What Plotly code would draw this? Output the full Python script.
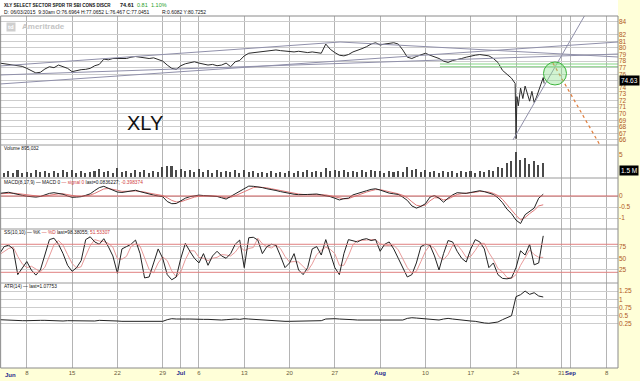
import numpy as np
import pandas as pd
import plotly.graph_objects as go

W, H = 640, 381

# ---------------- calendar (trading-day index) ----------------
cal = pd.bdate_range("2015-06-01", "2015-09-11")
cal = cal[~cal.isin(pd.to_datetime(["2015-07-03", "2015-09-07"]))]
DAY_IDX = {d.strftime("%Y-%m-%d"): i for i, d in enumerate(cal)}

TICK_DATES = ["2015-06-08", "2015-06-15", "2015-06-22", "2015-06-29", "2015-07-01",
              "2015-07-06", "2015-07-13", "2015-07-20", "2015-07-27", "2015-08-03",
              "2015-08-10", "2015-08-17", "2015-08-24", "2015-08-31", "2015-09-01",
              "2015-09-08"]
TICK_LABELS = ["8", "15", "22", "29", "Jul", "6", "13", "20", "27", "Aug",
               "10", "17", "24", "31", "Sep", "8"]

# sample times (trading days since Jun 1, half-day steps)
T = np.arange(2.0, 62.01, 0.5)

# ---------------- price ----------------
PRICE_T = list(np.arange(2.0, 58.51, 0.5)) + [58.9, 59.0, 59.1, 59.25, 59.5, 59.75, 60.0,
                                               60.25, 60.5, 60.75, 61.0, 61.25, 61.5,
                                               61.75, 62.0, 62.1]
PRICE = [77.7, 77.6, 77.5, 77.4, 77.3, 77.2, 76.9, 76.6, 76.2, 76.3,
         76.8, 77.15, 77.0, 77.4, 77.2, 76.9, 76.4, 76.6, 76.7, 76.75,
         76.9, 77.3, 77.5, 78.3, 78.2, 78.4, 78.4, 78.5, 78.4, 78.6,
         78.7, 78.6, 78.5, 78.4, 78.5, 78.3, 78.0, 77.4, 76.9, 76.75,
         77.3, 77.6, 77.8, 77.9, 77.7, 77.6, 77.4, 77.5, 77.3, 77.4,
         77.7, 77.15, 77.9, 78.1, 78.8, 79.2, 79.3, 79.3, 79.4, 79.5,
         79.6, 79.7, 79.6, 79.5, 79.5, 79.4, 79.5, 79.4, 79.3, 79.4,
         79.3, 79.2, 80.6, 79.8, 79.3, 78.9, 78.8, 79.0, 79.4, 79.6,
         79.9, 80.2, 80.6, 80.8, 80.45, 80.6, 80.7, 80.8, 80.6, 79.7,
         78.6, 78.4, 78.7, 79.0, 79.2, 78.9, 78.7, 78.4, 78.0, 77.8,
         78.1, 78.2, 78.4, 78.6, 78.8, 78.9, 79.0, 78.9, 78.8, 78.4,
         77.8, 76.6, 76.0, 75.4,
         74.6, 66.2, 72.6, 71.2, 73.9, 72.3, 74.2, 73.1, 71.9, 73.4,
         71.7, 72.5, 73.7, 74.5, 75.5, 74.6]

# ---------------- volume (millions) ----------------
VOLUME = [1.3, 0.8, 1.2, 0.9, 1.4, 0.8, 1.1, 0.9, 1.5, 1.0,
          1.3, 0.9, 1.2, 0.8, 1.4, 1.0, 1.6, 0.9, 1.2, 0.8,
          1.1, 1.3, 1.8, 1.0, 1.3, 0.9, 1.9, 1.0, 1.2, 0.9,
          1.4, 1.0, 1.5, 0.9, 1.3, 1.1, 2.2, 2.5, 2.4, 1.6,
          1.8, 1.2, 1.6, 1.0, 1.7, 1.1, 1.4, 0.9, 1.5, 1.0,
          1.3, 1.1, 1.4, 0.9, 1.6, 1.0, 1.2, 0.8, 1.1, 0.8,
          1.2, 0.9, 1.1, 0.8, 1.3, 0.9, 1.2, 1.0, 1.4, 1.0,
          1.2, 1.0, 2.0, 1.2, 1.5, 1.2, 1.6, 1.0, 1.3, 1.0,
          1.4, 1.1, 1.5, 1.2, 1.3, 0.9, 1.2, 1.0, 1.3, 1.1,
          2.1, 1.6, 1.7, 1.1, 1.4, 1.0, 1.2, 0.9, 1.3, 1.0,
          1.2, 0.9, 1.3, 1.0, 1.2, 0.9, 1.3, 1.1, 1.4, 1.2,
          2.2, 2.0, 3.2, 3.6, 5.6, 3.8, 4.2, 3.0, 3.6, 2.6,
          3.2]

# ---------------- MACD ----------------
MACD = [0.12, 0.14, 0.17, 0.12, 0.06, 0.03, -0.01, -0.03, -0.05, -0.02,
        0.06, 0.12, 0.15, 0.12, 0.08, 0.0, -0.06, -0.05, -0.03, 0.03,
        0.10, 0.25, 0.38, 0.44, 0.35, 0.25, 0.18, 0.16, 0.20, 0.25,
        0.26, 0.20, 0.14, 0.08, 0.04, 0.0, -0.03, -0.25, -0.35, -0.34,
        -0.22, -0.10, -0.03, 0.02, 0.04, 0.02, 0.0, -0.01, -0.02, -0.08,
        -0.14, -0.02, 0.10, 0.20, 0.35, 0.45, 0.44, 0.42, 0.38, 0.33,
        0.30, 0.25, 0.20, 0.15, 0.10, 0.08, 0.06, 0.05, 0.07, 0.08,
        0.09, 0.05, 0.02, -0.03, -0.10, -0.18, -0.12, -0.10, 0.05, 0.12,
        0.20, 0.24, 0.30, 0.33, 0.27, 0.20, 0.13, 0.10, 0.07, -0.05,
        -0.20, -0.45, -0.55, -0.47, -0.35, -0.05, 0.02, -0.10, -0.28, -0.10,
        0.05, 0.15, 0.14, 0.12, 0.16, 0.20, 0.24, 0.20, 0.15, 0.07,
        -0.08, -0.30, -0.60, -0.80, -1.10, -1.25, -0.85, -0.68, -0.55, -0.10,
        0.08]
SIGNAL = [0.10, 0.11, 0.13, 0.13, 0.11, 0.08, 0.05, 0.02, -0.01, -0.02,
          0.0, 0.04, 0.08, 0.10, 0.10, 0.06, 0.02, -0.01, -0.02, 0.0,
          0.04, 0.12, 0.22, 0.32, 0.34, 0.31, 0.26, 0.21, 0.20, 0.22,
          0.23, 0.22, 0.18, 0.13, 0.09, 0.05, 0.02, -0.08, -0.20, -0.27,
          -0.26, -0.19, -0.11, -0.05, -0.01, 0.01, 0.01, 0.0, -0.01, -0.04,
          -0.08, -0.06, 0.01, 0.10, 0.20, 0.31, 0.38, 0.41, 0.40, 0.37,
          0.33, 0.29, 0.24, 0.20, 0.15, 0.11, 0.09, 0.07, 0.07, 0.07,
          0.08, 0.07, 0.05, 0.01, -0.04, -0.11, -0.13, -0.12, -0.04, 0.04,
          0.12, 0.18, 0.24, 0.29, 0.29, 0.25, 0.19, 0.14, 0.10, 0.03,
          -0.08, -0.26, -0.42, -0.46, -0.41, -0.22, -0.08, -0.08, -0.18, -0.14,
          -0.04, 0.07, 0.11, 0.12, 0.14, 0.17, 0.21, 0.21, 0.18, 0.12,
          0.02, -0.15, -0.40, -0.62, -0.88, -1.08, -0.98, -0.80, -0.65, -0.45,
          -0.40]

# ---------------- slow stochastic ----------------
STOCH_K = [60, 75, 78, 70, 15, 30, 43, 25, 14, 25,
           55, 90, 93, 80, 60, 35, 22, 30, 45, 90,
           96, 85, 80, 92, 75, 55, 18, 70, 75, 80,
           89, 60, 8, 10, 40, 70, 50, 15, 4, 10,
           50, 82, 65, 50, 40, 60, 35, 55, 65, 55,
           50, 60, 80, 89, 30, 94, 95, 89, 60, 75,
           80, 78, 55, 30, 40, 60, 25, 15, 30, 70,
           75, 57, 90, 60, 30, 15, 60, 90, 88, 85,
           90, 92, 88, 90, 65, 80, 85, 70, 50, 30,
           10, 15, 40, 75, 80, 78, 55, 25, 60, 88,
           85, 65, 50, 42, 70, 90, 85, 70, 30, 40,
           15, 7, 6, 8, 30, 66, 57, 80, 36, 40,
           98]
STOCH_D = [58, 65, 71, 74, 54, 38, 30, 33, 27, 21,
           31, 57, 79, 88, 78, 58, 39, 29, 32, 55,
           77, 90, 87, 86, 82, 74, 49, 48, 54, 75,
           81, 76, 52, 26, 19, 40, 53, 45, 23, 10,
           21, 47, 66, 66, 52, 50, 45, 50, 52, 58,
           57, 55, 63, 76, 66, 71, 73, 93, 81, 75,
           72, 78, 71, 54, 42, 43, 42, 33, 23, 38,
           58, 67, 74, 69, 60, 35, 35, 55, 79, 88,
           88, 89, 90, 90, 81, 78, 77, 78, 68, 50,
           30, 18, 22, 43, 65, 78, 71, 53, 47, 58,
           78, 79, 67, 52, 54, 67, 82, 82, 62, 47,
           28, 21, 9, 7, 15, 35, 51, 68, 58, 52,
           52]

# ---------------- ATR(14) ----------------
ATR = [0.38, 0.37, 0.37, 0.36, 0.36, 0.35, 0.35, 0.36, 0.37, 0.36,
       0.36, 0.35, 0.35, 0.34, 0.34, 0.35, 0.35, 0.34, 0.34, 0.33,
       0.33, 0.34, 0.36, 0.36, 0.35, 0.34, 0.34, 0.33, 0.33, 0.32,
       0.32, 0.32, 0.33, 0.32, 0.32, 0.31, 0.33, 0.38, 0.41, 0.40,
       0.41, 0.40, 0.40, 0.39, 0.40, 0.39, 0.39, 0.38, 0.38, 0.37,
       0.38, 0.40, 0.40, 0.39, 0.41, 0.40, 0.39, 0.37, 0.36, 0.35,
       0.35, 0.34, 0.34, 0.33, 0.33, 0.33, 0.34, 0.34, 0.35, 0.34,
       0.34, 0.35, 0.40, 0.41, 0.41, 0.40, 0.40, 0.39, 0.38, 0.37,
       0.37, 0.36, 0.36, 0.36, 0.37, 0.36, 0.35, 0.35, 0.35, 0.37,
       0.42, 0.44, 0.43, 0.42, 0.41, 0.40, 0.39, 0.37, 0.40, 0.42,
       0.40, 0.38, 0.36, 0.35, 0.34, 0.33, 0.30, 0.28, 0.27, 0.28,
       0.31, 0.38, 0.45, 0.50, 1.08, 1.14, 1.25, 1.15, 1.20, 1.10,
       1.07]

# ---------------- drawn trend lines (trading day, price) ----------------
TRENDS = [
    [(2.04, 74.52), (70.25, 80.91)],
    [(2.04, 75.89), (70.25, 79.08)],
    [(2.04, 77.26), (39.57, 80.91), (70.25, 78.63)],
    [(58.66, 66.0), (66.6, 85.0)],
]
ORANGE_LINE = [(63.07, 77.7), (68.27, 65.2)]
GREEN_LEVELS = [77.56, 77.15]
GREEN_FROM = 50.6
CIRCLE = (62.03, 74.37, 64.57, 77.87)

# ---------------- layout geometry ----------------
def py(p):
    return 1 - p / H

XR = [(0 + 18.5) / 9.06, (618 + 18.5) / 9.06]
XD = [0, 618 / W]
TOP, B1, B2, B3, B4, BOT = 16, 145, 178, 229, 283, 368

GRID = "#cdcdcd"
TICKC = "#b0581e"
FONT = "Liberation Sans, Arial, sans-serif"

fig = go.Figure()

fig.add_trace(go.Scatter(x=PRICE_T, y=PRICE, mode="lines", line=dict(color="#2a2a2a", width=1),
                         xaxis="x", yaxis="y"))
fig.add_trace(go.Bar(x=T, y=VOLUME, width=0.17, marker=dict(color="#4a4a4a", line=dict(width=0)),
                     xaxis="x", yaxis="y2"))
fig.add_trace(go.Scatter(x=T, y=SIGNAL, mode="lines", line=dict(color="#e07a7a", width=1),
                         xaxis="x", yaxis="y3"))
fig.add_trace(go.Scatter(x=T, y=MACD, mode="lines", line=dict(color="#222", width=1),
                         xaxis="x", yaxis="y3"))
fig.add_trace(go.Scatter(x=T, y=STOCH_D, mode="lines", line=dict(color="#e89a9a", width=1),
                         xaxis="x", yaxis="y4"))
fig.add_trace(go.Scatter(x=T, y=STOCH_K, mode="lines", line=dict(color="#222", width=1),
                         xaxis="x", yaxis="y4"))
fig.add_trace(go.Scatter(x=T, y=ATR, mode="lines", line=dict(color="#222", width=1),
                         xaxis="x", yaxis="y5"))

shapes = []
# header white area
shapes.append(dict(type="rect", xref="paper", yref="paper", x0=0, x1=XD[1], y0=py(TOP), y1=1,
                   fillcolor="white", line=dict(width=0), layer="below"))
# trend lines
for tl in TRENDS:
    for (a, b) in zip(tl[:-1], tl[1:]):
        shapes.append(dict(type="line", xref="x", yref="y", x0=a[0], y0=a[1], x1=b[0], y1=b[1],
                           line=dict(color="#9090aa", width=1)))
for lv in GREEN_LEVELS:
    shapes.append(dict(type="line", xref="x", yref="y", x0=GREEN_FROM, x1=XR[1], y0=lv, y1=lv,
                       line=dict(color="#86d486", width=1)))
shapes.append(dict(type="line", xref="x", yref="y", x0=ORANGE_LINE[0][0], y0=ORANGE_LINE[0][1],
                   x1=ORANGE_LINE[1][0], y1=ORANGE_LINE[1][1],
                   line=dict(color="#e07b39", width=1.2, dash="dot")))
shapes.append(dict(type="circle", xref="x", yref="y", x0=CIRCLE[0], y0=CIRCLE[1], x1=CIRCLE[2],
                   y1=CIRCLE[3], fillcolor="rgba(140,225,140,0.4)",
                   line=dict(color="#3cb43c", width=1)))
# reference lines
shapes.append(dict(type="line", xref="x", yref="y3", x0=XR[0], x1=XR[1], y0=0, y1=0,
                   line=dict(color="#d06060", width=1)))
for lv in (80, 20):
    shapes.append(dict(type="line", xref="x", yref="y4", x0=XR[0], x1=XR[1], y0=lv, y1=lv,
                       line=dict(color="#e08080", width=1)))
# panel frame + separators
shapes.append(dict(type="rect", xref="paper", yref="paper", x0=0.001, x1=XD[1], y0=py(BOT),
                   y1=py(TOP), line=dict(color="#8a8a8a", width=1)))
for b in (B1, B2, B3, B4):
    shapes.append(dict(type="line", xref="paper", yref="paper", x0=0, x1=XD[1], y0=py(b),
                       y1=py(b), line=dict(color="#9a9a9a", width=1)))


def yax(dom, rng, tv, tt=None, grid=True):
    return dict(domain=[py(dom[1]), py(dom[0])], range=rng, side="right", anchor="x",
                tickmode="array", tickvals=tv, ticktext=tt if tt else [str(v) for v in tv],
                showgrid=grid, gridcolor=GRID, gridwidth=1, zeroline=False, showline=False,
                ticks="", tickfont=dict(size=6.5, color=TICKC, family=FONT), fixedrange=True)


price_ticks = [v for v in range(66, 85) if v != 83]
price_text = ["" if v == 75 else str(v) for v in price_ticks]
tickvals_x = [DAY_IDX[d] for d in TICK_DATES]
ticktext_x = []
for lab in TICK_LABELS:
    if lab.isalpha():
        ticktext_x.append("<b><span style='color:#1f2a8c'>%s</span></b>" % lab)
    else:
        ticktext_x.append(lab)

annotations = []


def note(x, y, text, size=5, color="#111", **kw):
    d = dict(xref="paper", yref="paper", x=x / W, y=py(y), text=text, showarrow=False,
             xanchor="left", yanchor="middle", font=dict(size=size, color=color, family=FONT))
    d.update(kw)
    annotations.append(d)


# header
note(2, 5, "<b>XLY SELECT SECTOR SPDR TR SBI CONS DISCR</b>", size=4.5)
note(118, 5, "<b>74.61</b>", size=5.5)
note(135, 5, "0.81", size=5.5, color="#2aa02a")
note(149, 5, "1.10%", size=5.5, color="#2aa02a")
note(2, 12, "D: 06/03/2015  9:30am O:76.6964 H:77.0652 L:76.467 C:77.0451", size=5)
note(160, 12, "R:0.6082 Y:80.7252", size=5)
# watermark
note(20, 27, "<b>Ameritrade</b>", size=8, color="#c4c4c4")
annotations.append(dict(xref="paper", yref="paper", x=6 / W, y=py(27), text="<b>td</b>",
                        showarrow=False, xanchor="left", yanchor="middle", bgcolor="#cfcfcf",
                        font=dict(size=6, color="white", family=FONT)))
note(125, 123, "XLY", size=20, color="#111")
# panel labels
note(2, 148, "Volume 895,032", size=4.8)
note(2, 182, "MACD(8,17,9) — MACD 0 <span style='color:#d04040'>— signal 0</span> "
             "last=0.0836227; <span style='color:#d04040'>-0.398374</span>", size=4.8)
note(2, 232, "SS(10,10) — %K <span style='color:#d04040'>— %D</span> "
             "last=98.38055; <span style='color:#d04040'>51.53307</span>", size=4.8)
note(2, 286, "ATR(14) — last=1.07753", size=4.8)
note(3, 375, "<b>Jun</b>", size=6, color="#1f2a8c")
# value boxes on the right scale
annotations.append(dict(xref="paper", yref="paper", x=619 / W, y=py(80), text="74.63",
                        showarrow=False, xanchor="left", yanchor="middle", bgcolor="black",
                        borderpad=1, font=dict(size=6.5, color="white", family=FONT)))
annotations.append(dict(xref="paper", yref="paper", x=619 / W, y=py(170), text="1.5 M",
                        showarrow=False, xanchor="left", yanchor="middle", bgcolor="black",
                        borderpad=1, font=dict(size=6.5, color="white", family=FONT)))

fig.update_layout(
    width=W, height=H, margin=dict(l=0, r=0, t=0, b=0),
    paper_bgcolor="#ffffd8", plot_bgcolor="white", showlegend=False, bargap=0,
    xaxis=dict(domain=XD, range=XR, anchor="y5", tickmode="array", tickvals=tickvals_x,
               ticktext=ticktext_x, showgrid=True, gridcolor="#b4b4b4", gridwidth=1,
               zeroline=False, showline=False, ticks="", tickangle=0,
               tickfont=dict(size=6, color="#6a5a3a", family=FONT), fixedrange=True),
    yaxis=yax((TOP, B1), [65.23, 84.87], price_ticks, price_text),
    yaxis2=yax((B1, B2), [-0.35, 7.33], [5], grid=False),
    yaxis3=yax((B2, B3), [-1.5, 0.818], [0, -0.5, -1]),
    yaxis4=yax((B3, B4), [-2.9, 112.7], [75, 50, 25]),
    yaxis5=yax((B4, BOT), [-1.088, 1.495], [1.25, 1, 0.75, 0.5, 0.25]),
    shapes=shapes, annotations=annotations,
)

fig.write_html("out.html")
